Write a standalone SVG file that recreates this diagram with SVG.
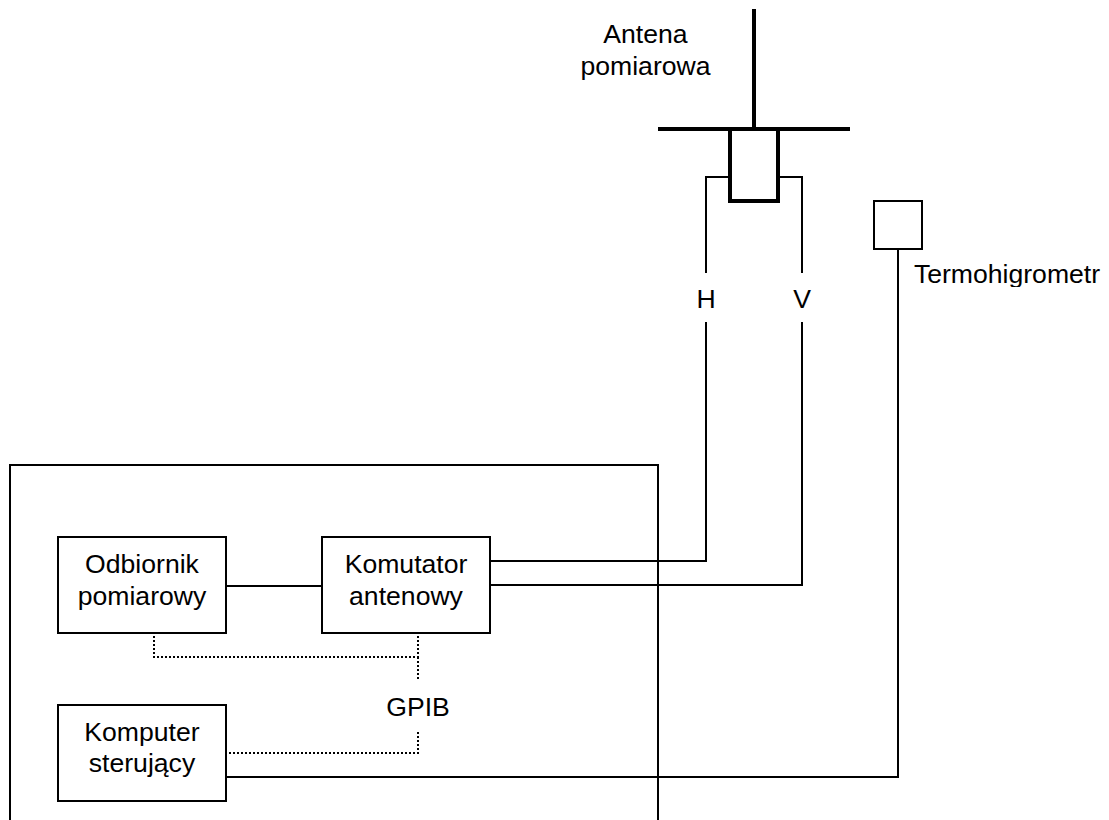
<svg xmlns="http://www.w3.org/2000/svg" width="1109" height="820" viewBox="0 0 1109 820">
<style>
text{font-family:"Liberation Sans",Arial,sans-serif;font-size:26.6px;fill:#000;text-anchor:middle}
.b{fill:#fff;stroke:#000;stroke-width:2}
.l{fill:none;stroke:#000;stroke-width:2}
.t{fill:none;stroke:#000;stroke-width:4}
.d{fill:none;stroke:#000;stroke-width:2;stroke-dasharray:2 2}
</style>
<defs><clipPath id="tc"><rect x="905" y="255" width="204" height="32"/></clipPath></defs>
<rect width="1109" height="820" fill="#fff"/>
<g id="obudowa"><path class="l" d="M10 820V465H658V820"/></g>
<g id="connectors">
<path class="l" d="M226 586H322"/>
<path class="l" d="M490 561H706V322M706 273V177H730"/>
<path class="l" d="M490 585H802V322M802 273V177H778"/>
<path class="l" d="M226 777H898V250"/>
<path class="d" d="M154 636V657H418V636M418 657V681"/>
<path class="d" d="M229 753H418V731"/>
</g>
<g id="antena">
<path class="t" d="M754 9V129M658 129H850"/>
<rect x="730" y="129" width="48" height="72" fill="#fff" stroke="#000" stroke-width="4"/>
<text x="645.5" y="43">Antena</text><text x="645.5" y="74.5">pomiarowa</text>
</g>
<g id="termohigrometr"><rect class="b" x="874" y="201" width="48" height="48"/><text x="1007" y="283" clip-path="url(#tc)">Termohigrometr</text></g>
<g id="odbiornik"><rect class="b" x="58" y="537" width="168" height="96"/><text x="142" y="573">Odbiornik</text><text x="142" y="605">pomiarowy</text></g>
<g id="komutator"><rect class="b" x="322" y="537" width="168" height="96"/><text x="406" y="573">Komutator</text><text x="406" y="605">antenowy</text></g>
<g id="komputer"><rect class="b" x="58" y="705" width="168" height="96"/><text x="142" y="741">Komputer</text><text x="142" y="772">sterujący</text></g>
<g id="etykiety"><text x="706" y="308">H</text><text x="802" y="308">V</text><text x="418" y="716">GPIB</text></g>
</svg>
